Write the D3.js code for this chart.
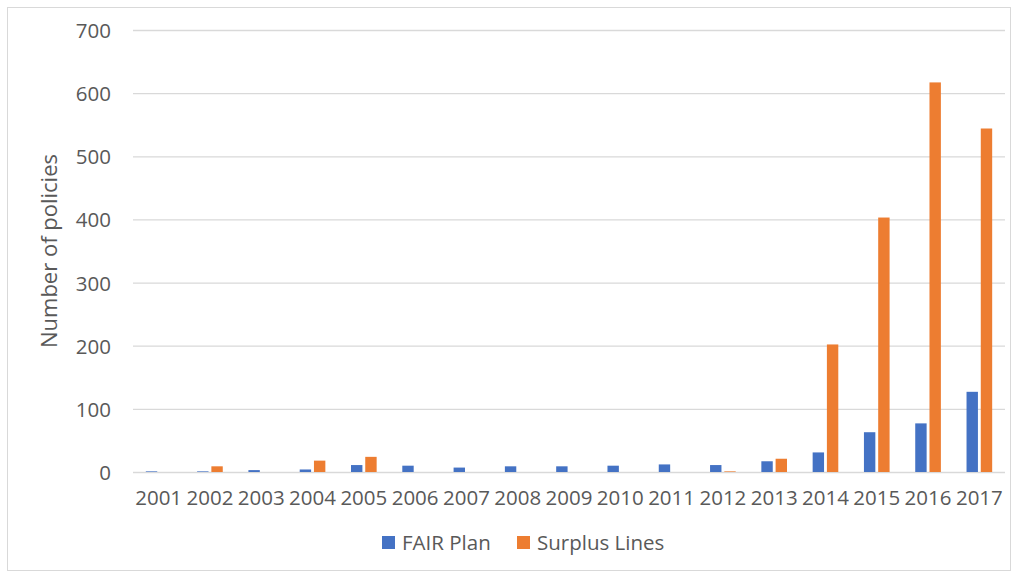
<!DOCTYPE html>
<html lang="en">
<head>
	<meta charset="utf-8">
	<title>Number of policies</title>
	<script src="https://cdnjs.cloudflare.com/ajax/libs/d3/7.8.5/d3.min.js"></script>
	<style>
		body { margin: 0; background: #fff; }
		text { font-family: 'Open Sans', sans-serif; fill: #595959; }
	</style>
</head>
<body>
	<div class="chart"></div>

	<script>
		// data
		var years = ["2001", "2002", "2003", "2004", "2005", "2006", "2007", "2008", "2009",
			"2010", "2011", "2012", "2013", "2014", "2015", "2016", "2017"];
		var fairPlan = [1, 1, 3, 4, 11, 10, 7, 9, 9, 10, 12, 11, 17, 31, 63, 77, 127];
		var surplusLines = [0, 9, 0, 18, 24, 0, 0, 0, 0, 0, 0, 1, 21, 202, 403, 617, 544];
		var seriesNames = ["FAIR Plan", "Surplus Lines"];
		var seriesColors = ["#4472C4", "#ED7D31"];
		var yTicks = [0, 100, 200, 300, 400, 500, 600, 700];

		var width = 1018,
			height = 577;

		var svg = d3.select(".chart").append("svg")
			.attr("width", width)
			.attr("height", height);

		// outer border
		svg.append("rect")
			.attr("x", 7.5).attr("y", 7.5)
			.attr("width", width - 15).attr("height", height - 14)
			.attr("fill", "none")
			.attr("stroke", "#d9d9d9");

		var x = d3.scaleBand()
			.domain(years)
			.range([133, 1005])
			.paddingInner(0.5)
			.paddingOuter(0.25);

		var xSub = d3.scaleBand()
			.domain(seriesNames)
			.range([0, x.bandwidth()])
			.paddingInner(0.2);

		var y = d3.scaleLinear()
			.domain([0, 700])
			.range([472, 30]);

		// gridlines
		svg.append("g")
			.attr("transform", "translate(133,0)")
			.call(d3.axisLeft(y).tickValues(yTicks).tickSize(-(1005 - 133)).tickFormat(""))
			.call(function(g) { g.select(".domain").remove(); })
			.selectAll("line")
			.attr("stroke", "#d9d9d9")
			.attr("stroke-width", 1.3);

		// y tick labels
		svg.append("g")
			.attr("transform", "translate(111,1)")
			.call(d3.axisLeft(y).tickValues(yTicks).tickSize(0).tickPadding(0))
			.call(function(g) { g.select(".domain").remove(); })
			.selectAll("text")
			.attr("font-size", "20.5px")
			.style("font-family", "'Open Sans', sans-serif")
			.attr("fill", "#595959");

		// bars
		var rows = years.map(function(yr, i) {
			return { year: yr, values: [fairPlan[i], surplusLines[i]] };
		});

		var groups = svg.append("g").selectAll("g")
			.data(rows)
			.join("g")
			.attr("transform", function(d) { return "translate(" + x(d.year) + ",0)"; });

		groups.selectAll("rect")
			.data(function(d) {
				return d.values.map(function(v, j) { return { name: seriesNames[j], value: v, idx: j }; });
			})
			.join("rect")
			.attr("x", function(d) { return xSub(d.name); })
			.attr("width", xSub.bandwidth())
			.attr("y", function(d) { return y(d.value); })
			.attr("height", function(d) { return y(0) - y(d.value); })
			.attr("fill", function(d) { return seriesColors[d.idx]; });

		// x axis labels
		svg.append("g")
			.attr("transform", "translate(0,474)")
			.call(d3.axisBottom(x).tickSize(0).tickPadding(16))
			.call(function(g) { g.select(".domain").remove(); })
			.selectAll("text")
			.attr("font-size", "20.5px")
			.style("font-family", "'Open Sans', sans-serif")
			.attr("fill", "#595959");

		// y axis title
		svg.append("text")
			.attr("transform", "translate(57,251) rotate(-90)")
			.attr("text-anchor", "middle")
			.attr("font-size", "22px")
			.text("Number of policies");

		// legend
		var legendX = [382, 517];
		var legend = svg.append("g").selectAll("g")
			.data(seriesNames)
			.join("g")
			.attr("transform", function(d, i) { return "translate(" + legendX[i] + ",536)"; });

		legend.append("rect")
			.attr("width", 13)
			.attr("height", 13)
			.attr("fill", function(d, i) { return seriesColors[i]; });

		legend.append("text")
			.attr("x", 20)
			.attr("y", 13.5)
			.attr("font-size", "20.5px")
			.text(function(d) { return d; });
	</script>
</body>
</html>
